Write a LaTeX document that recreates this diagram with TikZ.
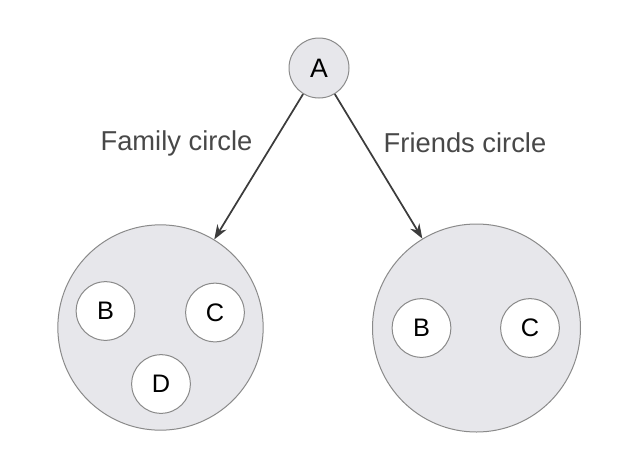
\documentclass[tikz,border=0pt]{standalone}
\usepackage{fontspec}
\setmainfont{Liberation Sans}
\usetikzlibrary{arrows.meta}

\definecolor{ringgray}{RGB}{231,231,235}
\definecolor{edgegray}{RGB}{138,138,138}
\definecolor{textgray}{RGB}{72,72,72}
\definecolor{arrowgray}{RGB}{60,60,60}

\tikzset{every picture/.style={line width=0.75pt}}
\tikzset{
  person/.style={circle,draw=edgegray,fill=white,minimum size=44pt,inner sep=0pt,font=\fontsize{19}{21}\selectfont},
  group/.style={circle,draw=edgegray,fill=ringgray,inner sep=0pt},
  link/.style={-{Stealth[length=11pt,width=8pt]},draw=arrowgray,line width=1.3pt},
  tag/.style={text=textgray,font=\fontsize{20.5}{23}\selectfont}
}

\begin{document}
\begin{tikzpicture}[x=0.75pt,y=0.75pt,yscale=-1,xscale=1]
\useasboundingbox (0,0) rectangle (637,462);

%Top person
\node [person,fill=ringgray,minimum size=45pt,font=\fontsize{20}{22}\selectfont] (A) at (319,68) {A};

%Family circle
\node [group,minimum size=154pt] (fam) at (160.5,327.5) {};
\node [person] (famB) at (105.5,311) {B};
\node [person] (famC) at (215,312.5) {C};
\node [person] (famD) at (161,384) {D};

%Friends circle
\node [group,minimum size=156pt] (fri) at (476.5,328) {};
\node [person] (friB) at (421.5,328) {B};
\node [person] (friC) at (530,328) {C};

%Arrows
\draw [link] (A) -- (fam);
\draw [link] (A) -- (fri);

% Labels
\node [tag] (famlabel) at (176.5,143) {Family circle};
\node [tag] (frilabel) at (465,143) {Friends circle};
\end{tikzpicture}
\end{document}
